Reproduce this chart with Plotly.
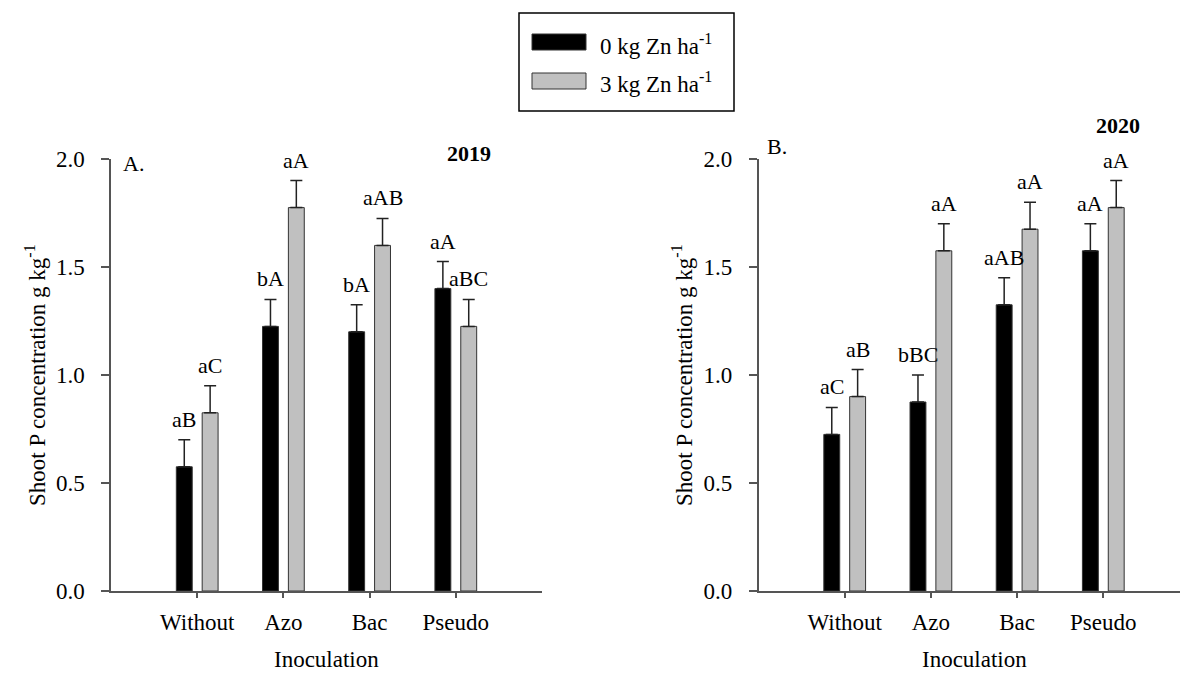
import plotly.graph_objects as go

# Inoculation treatments and zinc rates
categories = ["Without", "Azo", "Bac", "Pseudo"]
series_names = ["0 kg Zn ha<sup>-1</sup>", "3 kg Zn ha<sup>-1</sup>"]
series_colors = ["#000000", "#c0c0c0"]

# Shoot P concentration (g kg-1), 2019
p2019_zn0 = [0.575, 1.225, 1.200, 1.400]
p2019_zn3 = [0.825, 1.775, 1.600, 1.225]
se2019_zn0 = [0.125, 0.125, 0.125, 0.125]
se2019_zn3 = [0.125, 0.125, 0.125, 0.125]
letters2019_zn0 = ["aB", "bA", "bA", "aA"]
letters2019_zn3 = ["aC", "aA", "aAB", "aBC"]

# Shoot P concentration (g kg-1), 2020
p2020_zn0 = [0.725, 0.875, 1.325, 1.575]
p2020_zn3 = [0.900, 1.575, 1.675, 1.775]
se2020_zn0 = [0.125, 0.125, 0.125, 0.125]
se2020_zn3 = [0.125, 0.125, 0.125, 0.125]
letters2020_zn0 = ["aC", "bBC", "aAB", "aA"]
letters2020_zn3 = ["aB", "aA", "aA", "aA"]

W, H = 1180, 674
FONT = "Liberation Serif, Times New Roman, Times, serif"
AXIS_COLOR = "#555555"
FS = 23


def px(x):
    return x / W


def py(y):
    return 1 - y / H


fig = go.Figure()

panels = [
    ("x", "y", [p2019_zn0, p2019_zn3], [se2019_zn0, se2019_zn3],
     [letters2019_zn0, letters2019_zn3]),
    ("x2", "y2", [p2020_zn0, p2020_zn3], [se2020_zn0, se2020_zn3],
     [letters2020_zn0, letters2020_zn3]),
]

xpos = list(range(len(categories)))
bargap = 0.4
slot = (1 - bargap) / 2
annotations = []

for xa, ya, vals, errs, letters in panels:
    for k in range(2):
        fig.add_trace(go.Bar(
            x=xpos, y=vals[k], name=series_names[k], xaxis=xa, yaxis=ya,
            marker=dict(color=series_colors[k], line=dict(color="#333333", width=1)),
            error_y=dict(type="data", symmetric=False, array=errs[k],
                         arrayminus=[0] * len(errs[k]),
                         color="#222222", thickness=1.5, width=6),
            showlegend=False,
        ))
        offset = (k - 0.5) * slot
        for i in xpos:
            annotations.append(dict(
                x=i + offset, y=vals[k][i] + errs[k][i] + 0.095,
                xref=xa, yref=ya, text=letters[k][i], showarrow=False,
                xanchor="center", yanchor="middle",
                font=dict(family=FONT, size=22, color="black"),
            ))

axis_common = dict(
    showline=True, linecolor=AXIS_COLOR, linewidth=1.5,
    ticks="outside", tickcolor=AXIS_COLOR, tickwidth=1.5,
    showgrid=False, zeroline=False, automargin=False,
    tickfont=dict(family=FONT, size=FS, color="black"),
)

xA0, xA1 = 111, 542
xB0 = 758.5
unit = (xA1 - xA0) / 5.0
xB_end = -1 + (W - xB0) / unit
y_top, y_bot = 159, 591

fig.update_layout(
    template="none",
    width=W, height=H,
    margin=dict(l=0, r=0, t=0, b=0, pad=0),
    paper_bgcolor="white", plot_bgcolor="white",
    barmode="group", bargap=bargap, bargroupgap=0.385,
    xaxis=dict(domain=[px(xA0), px(xA1)], range=[-1, 4], anchor="y",
               tickvals=xpos, ticktext=categories, ticklen=5,
               ticklabelstandoff=5, **axis_common),
    yaxis=dict(domain=[py(y_bot), py(y_top)], range=[0, 2], anchor="x",
               tickvals=[0, 0.5, 1.0, 1.5, 2.0], tickformat=".1f", ticklen=8,
               ticklabelstandoff=12, **axis_common),
    xaxis2=dict(domain=[px(xB0), 1.0], range=[-1, xB_end], anchor="y2",
                tickvals=xpos, ticktext=categories, ticklen=5,
                ticklabelstandoff=5, **axis_common),
    yaxis2=dict(domain=[py(y_bot), py(y_top)], range=[0, 2], anchor="x2",
                tickvals=[0, 0.5, 1.0, 1.5, 2.0], tickformat=".1f", ticklen=8,
                ticklabelstandoff=12, **axis_common),
)

txt = dict(family=FONT, size=FS, color="black")
ytitle = "Shoot P concentration g kg<sup>-1</sup>"

# Panel labels, years, axis titles
for text, x, y, bold in [("A.", 133, 164, False), ("2019", 469, 153, True),
                         ("B.", 777, 146, False), ("2020", 1118, 125, True)]:
    annotations.append(dict(x=px(x), y=py(y), xref="paper", yref="paper",
                            text=f"<b>{text}</b>" if bold else text,
                            showarrow=False, xanchor="center", yanchor="middle",
                            font=dict(family=FONT, size=22, color="black")))
for x in (36, 683):
    annotations.append(dict(x=px(x), y=py((y_top + y_bot) / 2), xref="paper",
                            yref="paper", text=ytitle, textangle=-90,
                            showarrow=False, xanchor="center", yanchor="middle",
                            font=txt))
for x in ((xA0 + xA1) / 2, (xB0 + xB0 + 5 * unit) / 2):
    annotations.append(dict(x=px(x), y=py(659), xref="paper", yref="paper",
                            text="Inoculation", showarrow=False,
                            xanchor="center", yanchor="middle", font=txt))

# Legend box
shapes = [dict(type="rect", xref="paper", yref="paper",
               x0=px(519), x1=px(734), y0=py(111), y1=py(13),
               line=dict(color="black", width=1.5), fillcolor="white")]
for k, (name, color) in enumerate(zip(series_names, series_colors)):
    yc = 42 + k * 39
    shapes.append(dict(type="rect", xref="paper", yref="paper",
                       x0=px(532), x1=px(586), y0=py(yc + 8), y1=py(yc - 8),
                       line=dict(color="#333333", width=1), fillcolor=color))
    annotations.append(dict(x=px(598), y=py(yc + 2), xref="paper", yref="paper",
                            text=name, showarrow=False, xanchor="left",
                            yanchor="middle", font=txt))

fig.update_layout(annotations=annotations, shapes=shapes)
fig.write_html("out.html")
